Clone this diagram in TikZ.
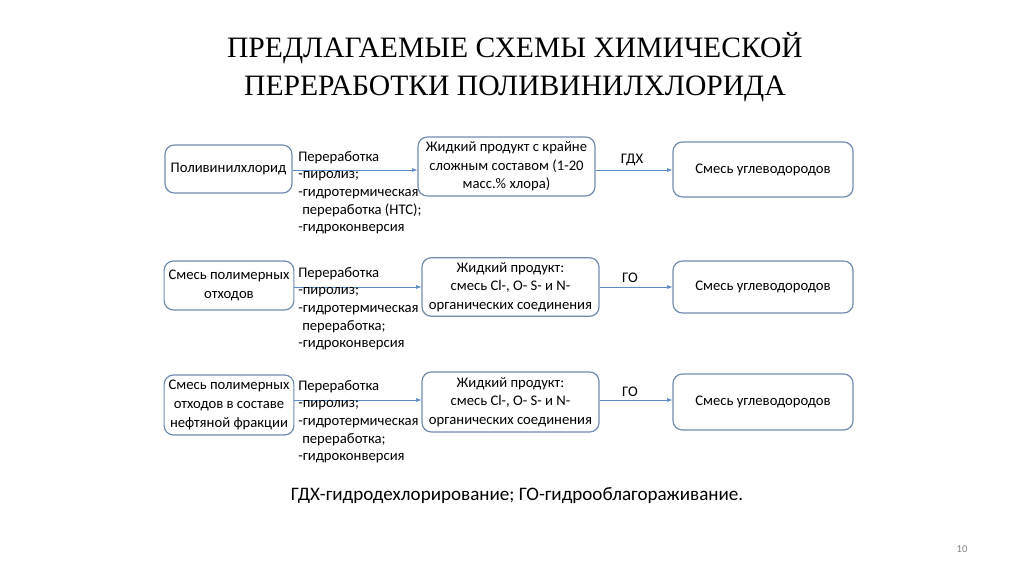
\documentclass[tikz,border=0pt]{standalone}
\usepackage{fontspec}
\setmainfont{Carlito}
\newfontfamily\titlefont{Liberation Serif}
\usetikzlibrary{arrows.meta}
\definecolor{bx}{HTML}{6F8CAF}
\definecolor{ar}{HTML}{5B8BC4}
\begin{document}
\begin{tikzpicture}[x=0.75pt,y=-0.75pt,
 box/.style={draw=bx,line width=0.9pt,rounded corners=7pt,align=center,font=\fontsize{11}{14}\selectfont},
 lst/.style={align=left,anchor=north west,font=\fontsize{11}{13.2}\selectfont,inner sep=0pt},
 arr/.style={draw=ar,line width=0.5pt,-{Latex[length=4pt,width=3pt]}},
 lbl/.style={font=\fontsize{11}{12}\selectfont}]
\useasboundingbox (0,0) rectangle (1024,574);
\node[font=\titlefont\fontsize{22.2}{28.5}\selectfont,align=center] (title) at (515,67) {ПРЕДЛАГАЕМЫЕ СХЕМЫ ХИМИЧЕСКОЙ\\ПЕРЕРАБОТКИ ПОЛИВИНИЛХЛОРИДА};
% row 1
\node[box,minimum width=127*0.75pt,minimum height=48*0.75pt] (a1) at (228.5,169) {Поливинилхлорид};
\node[box,minimum width=177*0.75pt,minimum height=59*0.75pt] (b1) at (506.5,166.5) {Жидкий продукт с крайне\\сложным составом (1-20\\масс.\% хлора)};
\node[box,minimum width=180*0.75pt,minimum height=55*0.75pt] (c1) at (763,169.5) {Смесь углеводородов};
\draw[arr] (a1.east |- 0,170) -- (b1.west |- 0,170);
\draw[arr] (b1.east |- 0,170) -- (c1.west |- 0,170);
\node[lbl] (g1) at (632,160) {ГДХ};
\node[lst] (l1) at (298,151) {Переработка\\-пиролиз;\\-гидротермическая\\\hspace{3pt}переработка (НТС);\\-гидроконверсия};
% row 2
\node[box,minimum width=126*0.75pt,minimum height=49*0.75pt] (a2) at (229,285.5) {Смесь полимерных\\отходов};
\node[box,minimum width=177*0.75pt,minimum height=58*0.75pt] (b2) at (510.5,287) {Жидкий продукт:\\смесь Cl-, O- S- и N-\\органических соединения};
\node[box,minimum width=180*0.75pt,minimum height=52*0.75pt] (c2) at (763,287) {Смесь углеводородов};
\draw[arr] (a2.east |- 0,287) -- (b2.west |- 0,287);
\draw[arr] (b2.east |- 0,287) -- (c2.west |- 0,287);
\node[lbl] (g2) at (630,278) {ГО};
\node[lst] (l2) at (298,267) {Переработка\\-пиролиз;\\-гидротермическая\\\hspace{3pt}переработка;\\-гидроконверсия};
% row 3
\node[box,minimum width=126*0.75pt,minimum height=60*0.75pt] (a3) at (229,405) {Смесь полимерных\\отходов в составе\\нефтяной фракции};
\node[box,minimum width=177*0.75pt,minimum height=60*0.75pt] (b3) at (510.5,402) {Жидкий продукт:\\смесь Cl-, O- S- и N-\\органических соединения};
\node[box,minimum width=180*0.75pt,minimum height=56*0.75pt] (c3) at (763,402) {Смесь углеводородов};
\draw[arr] (a3.east |- 0,400) -- (b3.west |- 0,400);
\draw[arr] (b3.east |- 0,400) -- (c3.west |- 0,400);
\node[lbl] (g3) at (630,392) {ГО};
\node[lst] (l3) at (298,380) {Переработка\\-пиролиз;\\-гидротермическая\\\hspace{3pt}переработка;\\-гидроконверсия};
\node[font=\fontsize{14.3}{16}\selectfont] (foot) at (517,496) {ГДХ-гидродехлорирование; ГО-гидрооблагораживание.};
\node[font=\fontsize{8}{10}\selectfont,text=gray] (pg) at (962,549) {10};
\end{tikzpicture}
\end{document}
